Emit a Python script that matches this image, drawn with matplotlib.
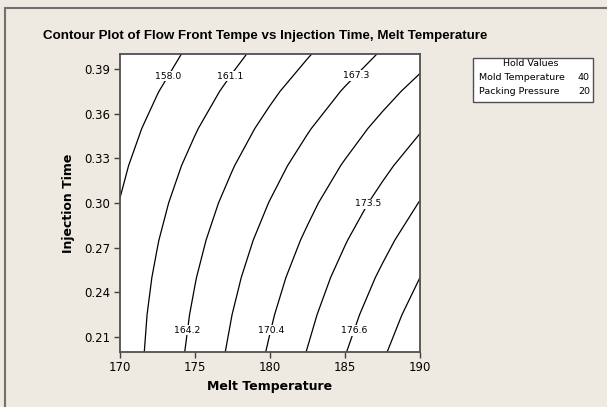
import numpy as np
import matplotlib
matplotlib.use("Agg")
import matplotlib.pyplot as plt
from matplotlib.patches import Rectangle

# ---- data ----
melt_temp = [170.0, 172.5, 175.0, 177.5, 180.0, 182.5, 185.0, 187.5, 190.0]
inj_time = [0.200, 0.225, 0.250, 0.275, 0.300, 0.325, 0.350, 0.375, 0.400]
# flow front temperature, one row per injection time
flow_front = [
    [159.20, 162.08, 164.96, 167.83, 170.71, 173.59, 176.47, 179.34, 182.22],
    [159.09, 161.83, 164.57, 167.31, 170.05, 172.79, 175.53, 178.27, 181.02],
    [158.86, 161.46, 164.07, 166.67, 169.28, 171.88, 174.49, 177.09, 179.70],
    [158.51, 160.98, 163.45, 165.92, 168.39, 170.85, 173.32, 175.79, 178.26],
    [158.05, 160.38, 162.72, 165.05, 167.38, 169.71, 172.05, 174.38, 176.71],
    [157.47, 159.67, 161.87, 164.06, 166.26, 168.46, 170.65, 172.85, 175.04],
    [156.78, 158.84, 160.90, 162.96, 165.02, 167.08, 169.14, 171.20, 173.26],
    [155.97, 157.90, 159.82, 161.74, 163.67, 165.59, 167.52, 169.44, 171.36],
    [155.05, 156.84, 158.63, 160.41, 162.20, 163.99, 165.78, 167.56, 169.35],
]
levels = [158.0, 161.1, 164.2, 167.3, 170.4, 173.5, 176.6, 179.7]
x_ticks = [170, 175, 180, 185, 190]
y_ticks = [0.21, 0.24, 0.27, 0.30, 0.33, 0.36, 0.39]
hold_names = ["Mold Temperature", "Packing Pressure"]
hold_values = [40, 20]

# where the contour labels sit (melt temp, injection time)
label_spots = [(173.1, 0.386), (177.25, 0.386), (185.7, 0.386), (186.45, 0.300),
               (174.5, 0.2148), (180.0, 0.2148), (185.5, 0.2148)]

bg = "#EEEAE1"
plt.rcParams["font.family"] = "DejaVu Sans"

fig = plt.figure(figsize=(6.07, 4.07), dpi=100, facecolor=bg)

# outer frame (only top/left visible in the crop)
fig.add_artist(Rectangle((4.5 / 607, -0.2), 1.5, 1.2 - 7.5 / 407, transform=fig.transFigure,
                         fill=False, edgecolor="#707070", lw=1.5))

ax = fig.add_axes([119.5 / 607, 1 - 352 / 407, 300.5 / 607, 298 / 407])
ax.set_facecolor("white")

X, Y = np.meshgrid(melt_temp, inj_time)
Z = np.array(flow_front)
cs = ax.contour(X, Y, Z, levels=levels, colors="black", linewidths=0.9)
labels = ax.clabel(cs, inline=False, fontsize=6.7, fmt="%.1f", manual=label_spots)
for t in labels:
    t.set_rotation(0)
    t.set_bbox(dict(facecolor="white", edgecolor="none", pad=0.5))

ax.set_xlim(170, 190)
ax.set_ylim(0.20, 0.40)
ax.set_xticks(x_ticks)
ax.set_yticks(y_ticks)
ax.set_yticklabels([f"{v:.2f}" for v in y_ticks])
ax.tick_params(direction="out", length=4, width=1, color="#404040", labelsize=8.5, pad=2.5)
for s in ax.spines.values():
    s.set_color("#505050")
    s.set_linewidth(1.3)

ax.set_xlabel("Melt Temperature", fontsize=9, fontweight="bold", labelpad=4)
ax.set_ylabel("Injection Time", fontsize=9, fontweight="bold", labelpad=7)

fig.text(265 / 607, 1 - 36 / 407, "Contour Plot of Flow Front Tempe vs Injection Time, Melt Temperature",
         ha="center", va="center", fontsize=9.6, fontweight="bold", family="Liberation Sans")

# hold values box
fig.add_artist(Rectangle((472.5 / 607, 1 - 101.7 / 407), 120 / 607, 44 / 407, transform=fig.transFigure,
                         facecolor="white", edgecolor="#505050", lw=1))
fig.text(530.7 / 607, 1 - 64 / 407, "Hold Values", ha="center", va="center", fontsize=6.8)
for i, (name, val) in enumerate(zip(hold_names, hold_values)):
    yy = 1 - (77.7 + 14 * i) / 407
    fig.text(479.3 / 607, yy, name, ha="left", va="center", fontsize=6.8)
    fig.text(590 / 607, yy, str(val), ha="right", va="center", fontsize=6.8)

fig.savefig("out.png", dpi=100, facecolor=bg)
